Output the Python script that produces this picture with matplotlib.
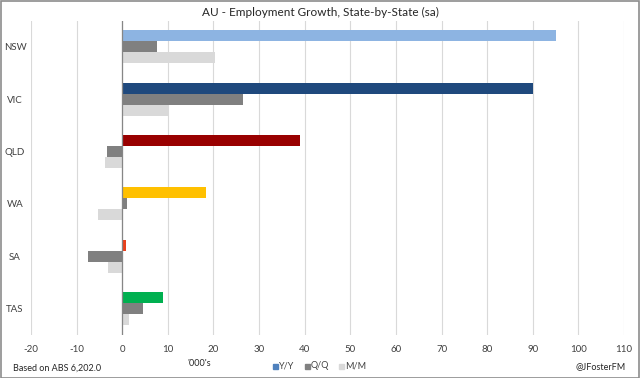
import matplotlib
matplotlib.use("Agg")
import matplotlib.pyplot as plt
from matplotlib.patches import Rectangle
import numpy as np

plt.rcParams['font.family'] = ['Lato', 'DejaVu Sans']

# data ('000s, seasonally adjusted)
states = ["NSW", "VIC", "QLD", "WA", "SA", "TAS"]
yy = [95.0, 90.0, 39.0, 18.4, 0.8, 9.0]
qq = [7.7, 26.5, -3.4, 1.1, -7.5, 4.5]
mm = [20.4, 10.3, -3.7, -5.3, -3.1, 1.5]
yy_colors = ["#8DB4E2", "#1F497D", "#990000", "#FFC000", "#E8401C", "#00B050"]
xticks = list(range(-20, 111, 10))

fig = plt.figure(figsize=(6.4, 3.78), dpi=100)
ax = fig.add_axes([31 / 640, 1 - 335 / 378, 593 / 640, 314.5 / 378])

pos = np.arange(len(states))
h = 0.21
ax.barh(pos - h, yy, height=h, color=yy_colors, zorder=3)
ax.barh(pos, qq, height=h, color="#808080", zorder=3)
ax.barh(pos + h, mm, height=h, color="#D9D9D9", zorder=3)

ax.set_xlim(-20, 110)
ax.set_ylim(len(states) - 0.5, -0.5)
ax.set_xticks(xticks)
ax.set_xticklabels([str(t) for t in xticks], fontsize=7, color="#404040")
ax.set_yticks(pos)
ax.set_yticklabels(states, fontsize=7, color="#404040", ha="center")
ax.tick_params(axis="y", length=0, pad=11.5)
ax.tick_params(axis="x", length=0, pad=7)
ax.grid(axis="x", color="#D9D9D9", linewidth=0.8, zorder=0)
ax.axvline(0, color="#868686", linewidth=0.9, zorder=4)
for s in ax.spines.values():
    s.set_visible(False)

fig.text(0.5, 1 - 12 / 378, "AU - Employment Growth, State-by-State (sa)",
         ha="center", va="center", fontsize=8.5, color="#262626")
fig.text(13 / 640, 1 - 368 / 378, "Based on ABS 6,202.0", ha="left", va="center",
         fontsize=6.5, color="#262626")
fig.text(199 / 640, 1 - 364 / 378, "'000's", ha="center", va="center",
         fontsize=6.5, color="#262626")
fig.text(626 / 640, 1 - 367 / 378, "@JFosterFM", ha="right", va="center",
         fontsize=6.5, color="#262626")

# legend
legend_items = [("Y/Y", "#4F81BD", 273), ("Q/Q", "#808080", 305), ("M/M", "#D9D9D9", 339)]
for label, col, x in legend_items:
    fig.patches.append(Rectangle((x / 640, 1 - 369 / 378), 5 / 640, 5 / 378,
                                 transform=fig.transFigure, color=col))
    fig.text((x + 6) / 640, 1 - 366 / 378, label, ha="left", va="center",
             fontsize=6.5, color="#404040")

fig.patches.append(Rectangle((0.001, 0.001), 0.998, 0.997, transform=fig.transFigure,
                             fill=False, edgecolor="#8C8C8C", linewidth=1.2))

fig.savefig("out.png", dpi=100)
